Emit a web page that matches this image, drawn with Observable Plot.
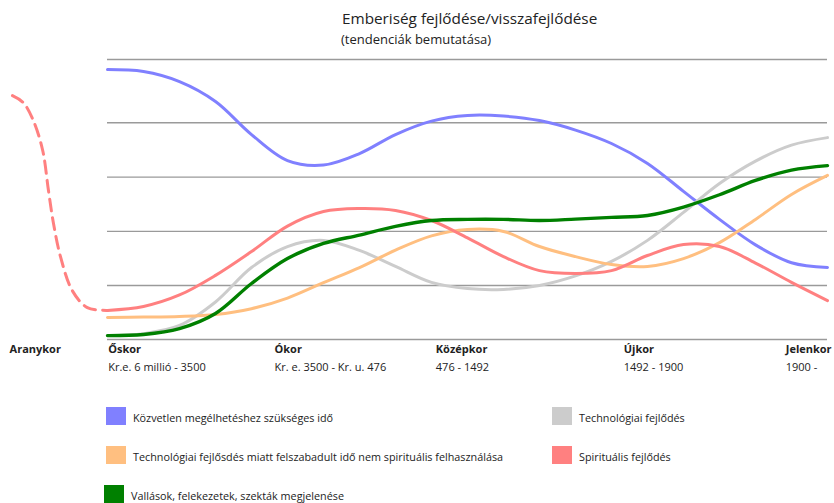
<!DOCTYPE html>
<html><head><meta charset="utf-8">
<script src="https://cdn.jsdelivr.net/npm/d3@7"></script>
<script src="https://cdn.jsdelivr.net/npm/@observablehq/plot@0.6"></script>
<style>
body{margin:0;background:#fff;font-family:"Open Sans",sans-serif;color:#222}
#wrap{position:relative;width:834px;height:503px;overflow:hidden}
.t{position:absolute;white-space:nowrap}
#title{left:342px;top:7px;font-size:15.3px;line-height:22px}
#sub{left:341px;top:31px;font-size:13px;line-height:16px}
#chart{position:absolute;left:0;top:50px}
.sw{position:absolute;width:20px;height:18px}
.lt{position:absolute;font-size:10.8px;line-height:14px;white-space:nowrap}
</style></head><body>
<div id="wrap">
  <div id="title" class="t">Emberiség fejlődése/visszafejlődése</div>
  <div id="sub" class="t">(tendenciák bemutatása)</div>
  <div id="chart"></div>
  <div id="legend"></div>
</div>
<script>
// Progress along history (0 = Őskor start, 100 = present)
const xs = [0,5,10,15,20,25,30,35,40,45,50,55,60,65,70,75,80,85,90,95,100];

// Series values (relative level, 0-100)
const blue   = [96.4,95.7,92.1,85.0,73.2,63.9,62.3,66.4,73.2,78.0,80.0,79.8,78.2,74.8,70.0,62.9,52.9,42.9,33.8,27.4,25.7];
const gray   = [1.4,2.1,5.0,13.4,25.7,33.2,35.4,31.8,26.1,20.4,18.2,17.9,19.3,22.7,27.9,35.4,45.4,55.7,63.7,69.4,72.1];
const orange = [7.9,8.0,8.2,8.9,11.0,14.8,20.3,25.7,31.9,37.0,39.3,38.6,33.2,29.6,26.8,26.1,28.9,34.6,42.9,51.8,58.6];
const red    = [10.4,11.8,15.9,22.9,31.4,40.5,45.7,46.8,46.1,42.5,36.3,29.6,24.6,23.6,24.6,30.0,33.9,33.2,27.3,20.4,13.9];
const green  = [1.4,1.8,3.9,9.3,20.0,28.9,34.3,37.3,40.4,42.5,42.9,42.9,42.5,43.0,43.6,44.3,47.3,51.7,56.8,60.5,62.1];

// Golden age (Aranykor) dashed spiritual curve
const goldX = [-13.2,-11.7,-10.3,-9.0,-8.2,-7.5,-6.5,-4.9,-2.8,0];
const goldY = [87.1,84.6,78.2,67.5,53.2,41.4,29.3,17.5,11.4,10.4];

// Horizontal reference lines
const gridValues = [0,19.3,38.6,58.0,77.4,100];

// Eras
const eraNames = ["Aranykor","Őskor","Ókor","Középkor","Újkor","Jelenkor"];
const eraSpans = ["","Kr.e. 6 millió - 3500","Kr. e. 3500 - Kr. u. 476","476 - 1492","1492 - 1900","1900 -"];
const eraPos   = [-13.6,0.1,23.2,45.6,71.7,94.2];

// Legend
const legendLabels = ["Közvetlen megélhetéshez szükséges idő","Technológiai fejlődés","Technológiai fejlősdés miatt felszabadult idő nem spirituális felhasználása","Spirituális fejlődés","Vallások, felekezetek, szekták megjelenése"];
const legendColors = ["#8080ff","#cccccc","#ffbf80","#ff8080","#008000"];

const toRows = ys => xs.map((x,i)=>({x, y: ys[i]}));
const gold = goldX.map((x,i)=>({x, y: goldY[i]}));
const eras = eraNames.map((n,i)=>({name:n, span:eraSpans[i], x:eraPos[i]}));

const curve = "catmull-rom";
const chart = Plot.plot({
  width: 834, height: 330,
  marginLeft: 107, marginRight: 7, marginTop: 9, marginBottom: 41,
  x: {domain: [0,100], axis: null},
  y: {domain: [0,100], axis: null},
  style: {fontFamily: "Open Sans, sans-serif", fontSize: "11px", color: "#222", background: "transparent", overflow: "visible"},
  marks: [
    Plot.ruleY(gridValues, {stroke: "#9a9a9a", strokeWidth: 1.4}),
    Plot.line(toRows(blue),   {x:"x", y:"y", stroke:"#8080ff", strokeWidth:3, curve}),
    Plot.line(toRows(gray),   {x:"x", y:"y", stroke:"#cccccc", strokeWidth:3, curve}),
    Plot.line(toRows(orange), {x:"x", y:"y", stroke:"#ffbf80", strokeWidth:3, curve}),
    Plot.line(toRows(red),    {x:"x", y:"y", stroke:"#ff8080", strokeWidth:3, curve}),
    Plot.line(gold,           {x:"x", y:"y", stroke:"#ff8080", strokeWidth:3, strokeDasharray:"12,7", curve}),
    Plot.line(toRows(green),  {x:"x", y:"y", stroke:"#008000", strokeWidth:3.4, curve}),
    Plot.text(eras, {x:"x", text:"name", frameAnchor:"bottom", dy:13.5, textAnchor:"start", fontWeight:"bold", fill:"#222"}),
    Plot.text(eras, {x:"x", text:"span", frameAnchor:"bottom", dy:31.5, textAnchor:"start", fill:"#222"})
  ]
});
document.getElementById("chart").append(chart);

// Legend layout
const legend = document.getElementById("legend");
const slots = [[106,407,133,411],[552,407,579,411],[106,446,133,450],[552,446,579,450],[104,485,131,489]];
legendLabels.forEach((lab,i)=>{
  const [sx,sy,tx,ty] = slots[i];
  const sw = document.createElement("div");
  sw.className = "sw"; sw.style.left = sx+"px"; sw.style.top = sy+"px"; sw.style.background = legendColors[i];
  const t = document.createElement("div");
  t.className = "lt"; t.style.left = tx+"px"; t.style.top = ty+"px"; t.textContent = lab;
  legend.append(sw, t);
});
</script>
</body></html>
